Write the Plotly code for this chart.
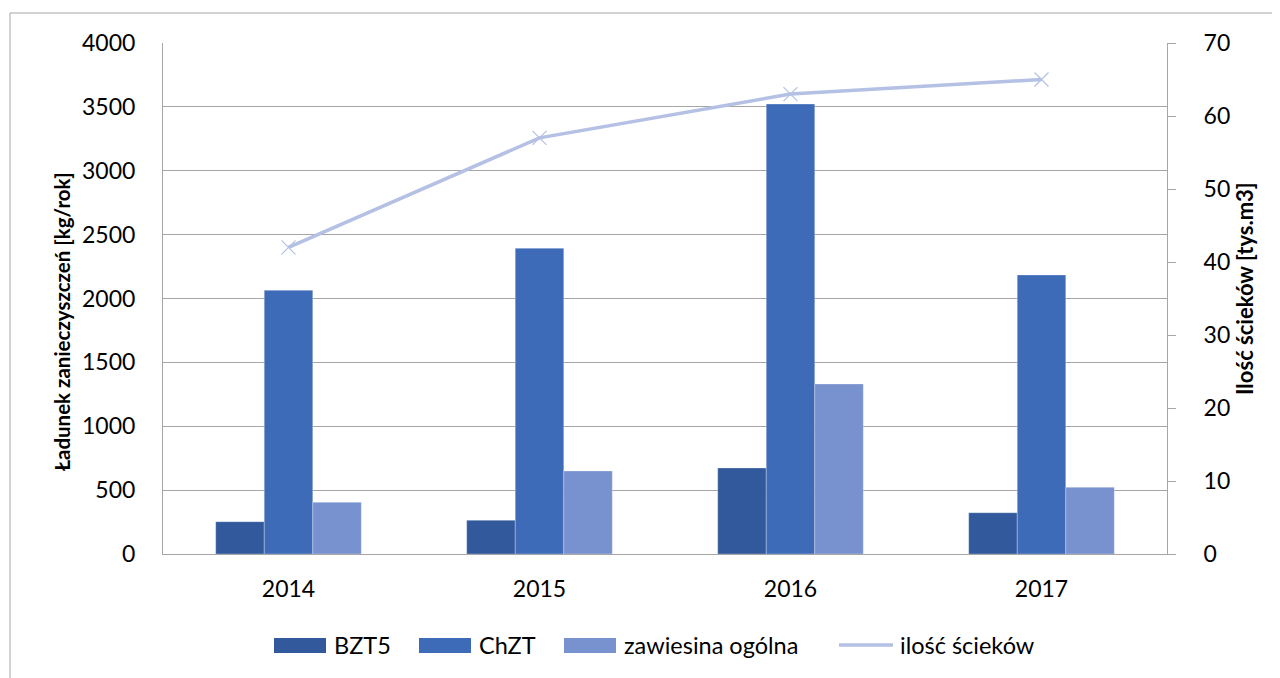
import plotly.graph_objects as go

years = ["2014", "2015", "2016", "2017"]
bzt5 = [253, 264, 673, 323]
chzt = [2064, 2393, 3522, 2184]
zawiesina = [405, 650, 1331, 522]
scieki = [42, 57, 63, 65]

OFF = 8  # page body margin
W, H = 1280 - OFF, 678 - OFF
L, R, T, B = 163 - OFF, 1167 - OFF, 43 - OFF, 554 - OFF
FONT = "Lato"
C_BZT = "#32599B"
C_CHZT = "#3E6BB8"
C_ZAW = "#7891CF"
C_LINE = "#B4C0E4"
GRID = "#A6A6A6"


def px(x):
    return (x - OFF - L) / (R - L)


def py(y):
    return (B - (y - OFF)) / (B - T)


fig = go.Figure()
for name, vals, col in [("BZT5", bzt5, C_BZT), ("ChZT", chzt, C_CHZT),
                        ("zawiesina ogólna", zawiesina, C_ZAW)]:
    fig.add_trace(go.Bar(x=years, y=vals, name=name, marker_color=col,
                         marker_line=dict(width=0.8, color="rgba(255,255,255,0.35)"),
                         showlegend=False))
fig.add_trace(go.Scatter(x=years, y=scieki, name="ilość ścieków", yaxis="y2",
                         mode="lines+markers",
                         line=dict(color=C_LINE, width=3.5),
                         marker=dict(symbol="x-thin-open", size=14,
                                     line=dict(color=C_LINE, width=1.2)),
                         showlegend=False))

shapes = [
    dict(type="rect", xref="paper", yref="paper",
         x0=px(10), x1=px(1295), y0=py(700), y1=py(13),
         line=dict(color=GRID, width=1), fillcolor="rgba(0,0,0,0)", layer="below"),
]
annotations = [
    dict(text="<b>Ładunek zanieczyszczeń [kg/rok]</b>", textangle=-90,
         xref="paper", yref="paper", x=px(62), y=py(322), showarrow=False,
         xanchor="center", yanchor="middle",
         font=dict(size=20.5, color="#000000", family=FONT)),
    dict(text="<b>Ilość ścieków [tys.m3]</b>", textangle=-90,
         xref="paper", yref="paper", x=px(1244), y=py(289), showarrow=False,
         xanchor="center", yanchor="middle",
         font=dict(size=22, color="#000000", family=FONT)),
]

# custom legend
leg_y = 645
for x0, x1, col, tx, label in [(274, 326, C_BZT, 332, "BZT5"),
                               (419, 471, C_CHZT, 477, "ChZT"),
                               (564, 616, C_ZAW, 622, "zawiesina ogólna")]:
    shapes.append(dict(type="rect", xref="paper", yref="paper",
                       x0=px(x0), x1=px(x1), y0=py(653), y1=py(638),
                       fillcolor=col, line=dict(width=0)))
    annotations.append(dict(text=label, xref="paper", yref="paper",
                            x=px(tx), y=py(leg_y), xanchor="left", yanchor="middle",
                            showarrow=False,
                            font=dict(size=23.5, color="#000000", family=FONT)))
shapes.append(dict(type="line", xref="paper", yref="paper",
                   x0=px(839), x1=px(893), y0=py(leg_y), y1=py(leg_y),
                   line=dict(color=C_LINE, width=3.5)))
fig.add_trace(go.Scatter(x=[px(866)], y=[py(leg_y)], xaxis="x3", yaxis="y3",
                         mode="markers", hoverinfo="skip", showlegend=False,
                         marker=dict(symbol="x-thin-open", size=14,
                                     line=dict(color=C_LINE, width=1.2))))
annotations.append(dict(text="ilość ścieków", xref="paper", yref="paper",
                        x=px(898), y=py(leg_y), xanchor="left", yanchor="middle",
                        showarrow=False,
                        font=dict(size=23.5, color="#000000", family=FONT)))

fig.update_layout(
    width=W, height=H,
    margin=dict(l=L, r=W - R, t=T, b=H - B, autoexpand=False),
    paper_bgcolor="white", plot_bgcolor="white",
    font=dict(family=FONT, size=23, color="#000000"),
    barmode="group", bargap=0.42, bargroupgap=0,
    showlegend=False,
    xaxis=dict(showline=True, linecolor=GRID, linewidth=1.3, ticks="",
               tickfont=dict(size=23), ticklabelstandoff=14, fixedrange=True),
    yaxis=dict(range=[0, 4000], dtick=500, showgrid=True, gridcolor=GRID,
               gridwidth=1, showline=True, linecolor=GRID, linewidth=1,
               ticks="", zeroline=False, tickfont=dict(size=23),
               ticklabelstandoff=22),
    yaxis2=dict(range=[0, 70], dtick=10, overlaying="y", side="right",
                showgrid=False, showline=True, linecolor=GRID, linewidth=1,
                ticks="outside", ticklen=8, tickcolor=GRID, zeroline=False,
                tickfont=dict(size=23), ticklabelstandoff=23),
    xaxis3=dict(domain=[0, 1], range=[0, 1], visible=False, overlaying="x",
                anchor="y3"),
    yaxis3=dict(domain=[0, 1], range=[0, 1], visible=False, overlaying="y",
                anchor="x3"),
    shapes=shapes, annotations=annotations,
)

fig.write_html("out.html")
